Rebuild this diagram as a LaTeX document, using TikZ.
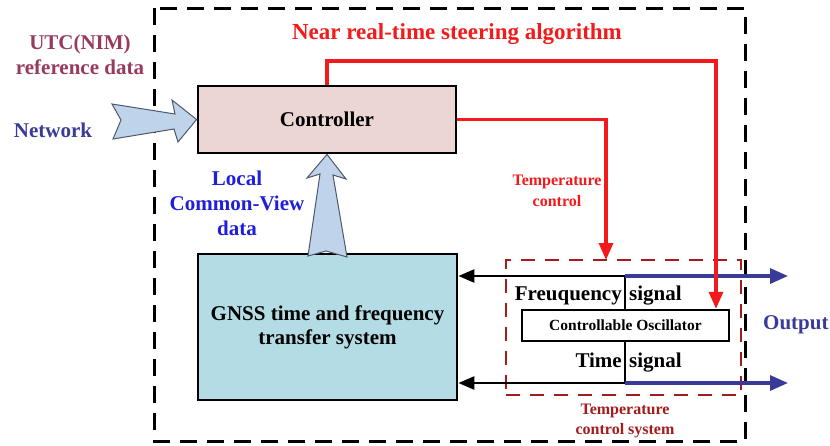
\documentclass[tikz,border=0pt]{standalone}
\usepackage{fontspec}
\setmainfont{Liberation Serif}
\usetikzlibrary{arrows.meta}

\definecolor{ctrlfill}{HTML}{EBD6D3}
\definecolor{gnssfill}{HTML}{B4DCE5}
\definecolor{fatfill}{HTML}{BFD3EA}
\definecolor{fatedge}{HTML}{4E5868}
\definecolor{steerred}{HTML}{F21A1A}
\definecolor{darkred}{HTML}{A21C1C}
\definecolor{navy}{HTML}{3A3A98}
\definecolor{plum}{HTML}{98395F}
\definecolor{brightblue}{HTML}{1E1EDC}

\tikzset{
  lbl/.style={font=\bfseries\fontsize{21}{25}\selectfont, inner sep=0pt, align=center},
  smalllbl/.style={font=\bfseries\fontsize{16}{20}\selectfont, inner sep=0pt, align=center},
  block/.style={draw=black, line width=2.8pt, inner sep=0pt, font=\bfseries\fontsize{21}{24}\selectfont, align=center},
  redline/.style={draw=steerred, line width=3.4pt},
  redarrow/.style={redline, -{Triangle[length=17pt,width=14pt]}},
  blackarrow/.style={draw=black, line width=2.6pt, -{Triangle[length=16pt,width=13pt]}},
  bluearrow/.style={draw=navy, line width=3.2pt, -{Triangle[length=18pt,width=15pt]}},
  fatarrow/.style={fill=fatfill, draw=fatedge, line width=1pt, line join=miter},
}

\begin{document}
\begin{tikzpicture}[x=1pt, y=-1pt]
  \useasboundingbox (0,0) rectangle (830,445);

  % system frame
  \draw[line width=3pt, dash pattern=on 17pt off 10pt] (154,8) rectangle (745,441);

  % main blocks
  \node[block, fill=ctrlfill, minimum width=258pt, minimum height=67pt] (ctrl) at (327,119.5) {Controller};
  \node[block, fill=gnssfill, minimum width=259pt, minimum height=146pt] (gnss) at (327.5,327) {GNSS time and frequency\\transfer system};

  % temperature controlled enclosure and oscillator
  \node[draw=darkred, line width=2.8pt, dash pattern=on 14pt off 10pt, minimum width=235pt, minimum height=135pt, inner sep=0pt] (tcs) at (623.5,327.5) {};
  \node[draw=black, line width=2.4pt, fill=white, minimum width=207pt, minimum height=31pt, inner sep=0pt,
        font=\bfseries\fontsize{15.5}{18}\selectfont] (osc) at (625.5,325.5) {Controllable Oscillator};

  % signal lines
  \coordinate (fq) at (625,276);
  \coordinate (tq) at (625,383);
  \coordinate (fqout) at (788,276);
  \coordinate (tqout) at (788,383);
  \draw[line width=2.4pt] (fq) -- (fq |- osc.north);
  \draw[line width=2.4pt] (osc.south -| tq) -- (tq);
  \draw[blackarrow] (fq) -- (fq -| gnss.east);
  \draw[blackarrow] (tq) -- (tq -| gnss.east);
  \draw[bluearrow] (fq) -- (fqout);
  \draw[bluearrow] (tq) -- (tqout);

  % steering and temperature control paths
  \coordinate (steer) at (716,61);
  \coordinate (tcin) at (606,260);
  \draw[redarrow] (ctrl.north) |- (steer) -- (steer |- osc.north);
  \draw[redarrow] (ctrl.east) -| (tcin);

  % data inputs
  \draw[fatarrow] (112,104) -- (175,114) -- (172,100) -- (ctrl.west) -- (178,142) -- (174,129) -- (113,139) -- (121,120) -- cycle;
  \draw[fatarrow] (ctrl.south) -- (346,179) -- (333,175) -- (347,257) -- (326,251) -- (308,256) -- (320,174) -- (307,178) -- cycle;

  % labels
  \node[lbl, text=plum] (utc) at (80,55) {UTC(NIM)\\reference data};
  \node[lbl, text=navy] (net) at (53,130) {Network};
  \node[lbl, text=brightblue] (cv) at (237,203) {Local\\Common-View\\data};
  \node[lbl, text=steerred, font=\bfseries\fontsize{23}{27}\selectfont] (title) at (457,34) {Near real-time steering algorithm};
  \node[smalllbl, text=steerred, font=\bfseries\fontsize{16}{21}\selectfont] (tclbl) at (557,191) {Temperature\\control};
  \node[smalllbl, text=darkred, font=\bfseries\fontsize{16}{19.5}\selectfont] (tcslbl) at (625,421) {Temperature\\control system};
  \node[lbl, anchor=base east] (freq) at (622,300) {Freuquency};
  \node[lbl, anchor=base west] (fsig) at (629,300) {signal};
  \node[lbl, anchor=base east] (time) at (622,367) {Time};
  \node[lbl, anchor=base west] (tsig) at (629,367) {signal};
  \node[lbl, text=navy, anchor=west] (out) at (763,325) {Output};
\end{tikzpicture}
\end{document}
